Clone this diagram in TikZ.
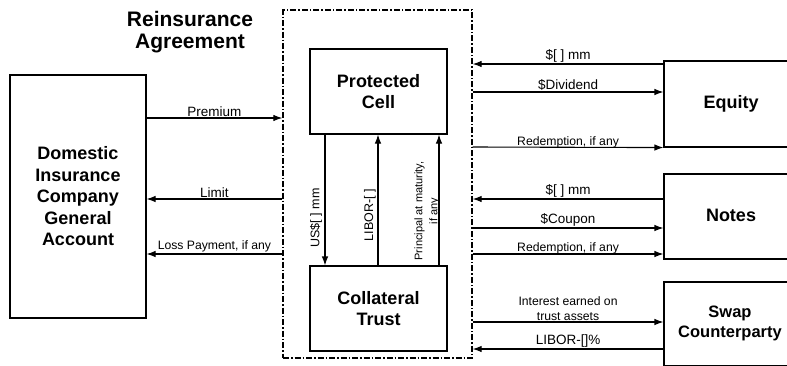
\documentclass[tikz,border=0pt]{standalone}
\usepackage{fontspec}
\setmainfont{Liberation Sans}
\usetikzlibrary{arrows.meta}
\begin{document}
\begin{tikzpicture}[x=1pt,y=-1pt,
  box/.style={draw, line width=1.1pt, inner sep=0pt, align=center,
    font=\fontsize{18}{21.5}\selectfont\bfseries},
  arr/.style={line width=1.1pt, -{Latex[length=9pt,width=6.5pt]}},
  lbl/.style={font=\fontsize{13.5}{14}\selectfont, inner sep=1pt, align=center},
  slbl/.style={lbl, font=\fontsize{12.2}{15}\selectfont},
  vlbl/.style={font=\fontsize{12.5}{14}\selectfont, inner sep=0pt, rotate=90},
  agreebox/.style={draw, line width=1.3pt, dash pattern=on 6pt off 2pt on 1.5pt off 2pt, inner sep=0pt}]
\clip (0,0) rectangle (787,365);
\fill[white] (0,0) rectangle (787,365);
% title
\node[font=\fontsize{21}{22.5}\selectfont\bfseries, align=center] (title) at (190,32) {Reinsurance\\Agreement};
% boxes
\node[agreebox, minimum width=189pt, minimum height=348pt] (agree) at (377.5,184) {};
\node[box, minimum width=136pt, minimum height=243pt] (dom) at (78,196.5) {Domestic\\Insurance\\Company\\General\\Account};
\node[box, minimum width=137pt, minimum height=85pt] (cell) at (378.5,91.5) {Protected\\Cell};
\node[box, minimum width=137pt, minimum height=85pt] (trust) at (378.5,308.5) {Collateral\\Trust};
\node[box, minimum width=136pt, minimum height=86pt] (equity) at (732,104) {};
\node[font=\fontsize{18}{21.5}\selectfont\bfseries] (equityt) at (731,104) {Equity};
\node[box, minimum width=136pt, minimum height=85pt] (notes) at (732,216.5) {};
\node[font=\fontsize{18}{21.5}\selectfont\bfseries] (notest) at (731,215) {Notes};
\node[box, minimum width=136pt, minimum height=84pt] (swap) at (732,324) {};
\node[font=\fontsize{16.5}{20}\selectfont\bfseries, align=center] (swapt) at (730,323) {Swap\\Counterparty};
% left arrows
\draw[arr] (dom.east |- 0,118) -- node[lbl, above] {Premium} (agree.west |- 0,118);
\draw[arr] (agree.west |- 0,199) -- node[lbl, above] {Limit} (dom.east |- 0,199);
\draw[arr] (agree.west |- 0,254) -- node[slbl, above] {Loss Payment, if any} (dom.east |- 0,254);
% right arrows
\draw[arr] (equity.west |- 0,64) -- node[lbl, above] {\$[ ] mm} (agree.east |- 0,64);
\draw[arr] (agree.east |- 0,92) -- node[lbl, above] {\$Dividend} (equity.west |- 0,92);
\draw[arr] (agree.east |- 0,147) -- node[slbl, above, yshift=-2pt] {Redemption, if any} (equity.south west);
\draw[arr] (notes.west |- 0,199) -- node[lbl, above] {\$[ ] mm} (agree.east |- 0,199);
\draw[arr] (agree.east |- 0,228) -- node[lbl, above] {\$Coupon} (notes.west |- 0,228);
\draw[arr] (agree.east |- 0,254) -- node[slbl, above, yshift=-2pt] {Redemption, if any} (notes.west |- 0,254);
\draw[arr] (agree.east |- 0,322) -- node[slbl, above] {Interest earned on\\trust assets} (swap.west |- 0,322);
\draw[arr] (swap.west |- 0,349) -- node[lbl, above] {LIBOR-[]\%} (agree.east |- 0,349);
% vertical arrows
\draw[arr] (cell.south -| 325,0) -- (trust.north -| 325,0);
\draw[arr] (trust.north -| 378,0) -- (cell.south -| 378,0);
\draw[arr] (trust.north -| 439,0) -- (cell.south -| 439,0);
\node[vlbl] (usl) at (316,218) {US\$[ ] mm};
\node[vlbl] (libl) at (370,215) {LIBOR-[ ]};
\node[vlbl, font=\fontsize{11}{15}\selectfont, align=center] (prl) at (427,211) {Principal at maturity,\\if any};
\end{tikzpicture}
\end{document}
